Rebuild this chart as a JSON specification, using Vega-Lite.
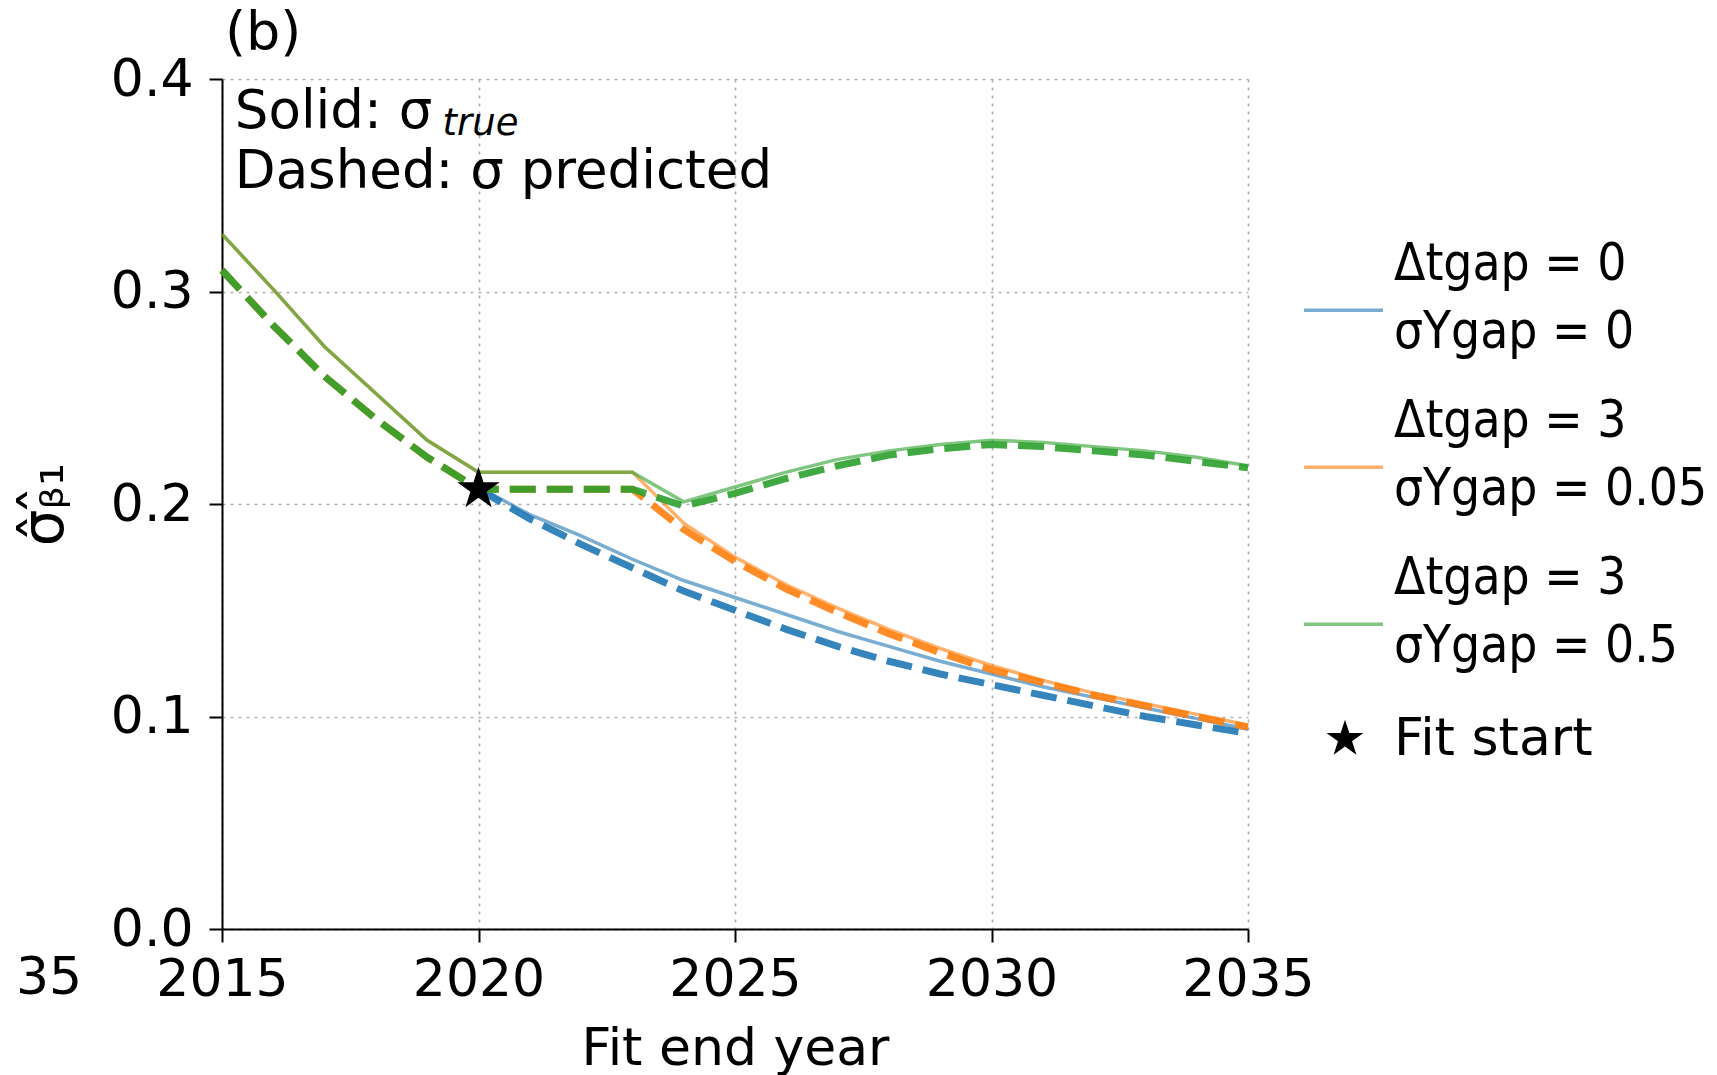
{
  "$schema": "https://vega.github.io/schema/vega-lite/v6.json",
  "width": 1026,
  "height": 850,
  "autosize": {"type": "none"},
  "padding": {"left": 222, "top": 79, "right": 469, "bottom": 146},
  "background": "white",
  "title": {"text": "(b)", "anchor": "start", "frame": "group", "fontSize": 54, "fontWeight": "normal", "font": "DejaVu Sans", "color": "#000", "offset": 14, "dx": 3, "dy": 22},
  "datasets": {
    "lines": [
      {"series": "a", "kind": "solid", "year": 2020, "value": 0.208},
      {"series": "a", "kind": "solid", "year": 2021, "value": 0.195},
      {"series": "a", "kind": "solid", "year": 2022, "value": 0.185},
      {"series": "a", "kind": "solid", "year": 2023, "value": 0.174},
      {"series": "a", "kind": "solid", "year": 2024, "value": 0.164},
      {"series": "a", "kind": "solid", "year": 2025, "value": 0.156},
      {"series": "a", "kind": "solid", "year": 2026, "value": 0.148},
      {"series": "a", "kind": "solid", "year": 2027, "value": 0.140},
      {"series": "a", "kind": "solid", "year": 2028, "value": 0.133},
      {"series": "a", "kind": "solid", "year": 2029, "value": 0.126},
      {"series": "a", "kind": "solid", "year": 2030, "value": 0.120},
      {"series": "a", "kind": "solid", "year": 2031, "value": 0.114},
      {"series": "a", "kind": "solid", "year": 2032, "value": 0.109},
      {"series": "a", "kind": "solid", "year": 2033, "value": 0.104},
      {"series": "a", "kind": "solid", "year": 2034, "value": 0.099},
      {"series": "a", "kind": "solid", "year": 2035, "value": 0.094},
      {"series": "a", "kind": "dashed", "year": 2020, "value": 0.207},
      {"series": "a", "kind": "dashed", "year": 2021, "value": 0.193},
      {"series": "a", "kind": "dashed", "year": 2022, "value": 0.181},
      {"series": "a", "kind": "dashed", "year": 2023, "value": 0.170},
      {"series": "a", "kind": "dashed", "year": 2024, "value": 0.159},
      {"series": "a", "kind": "dashed", "year": 2025, "value": 0.150},
      {"series": "a", "kind": "dashed", "year": 2026, "value": 0.141},
      {"series": "a", "kind": "dashed", "year": 2027, "value": 0.133},
      {"series": "a", "kind": "dashed", "year": 2028, "value": 0.126},
      {"series": "a", "kind": "dashed", "year": 2029, "value": 0.120},
      {"series": "a", "kind": "dashed", "year": 2030, "value": 0.115},
      {"series": "a", "kind": "dashed", "year": 2031, "value": 0.110},
      {"series": "a", "kind": "dashed", "year": 2032, "value": 0.105},
      {"series": "a", "kind": "dashed", "year": 2033, "value": 0.100},
      {"series": "a", "kind": "dashed", "year": 2034, "value": 0.096},
      {"series": "a", "kind": "dashed", "year": 2035, "value": 0.092},
      {"series": "b", "kind": "solid", "year": 2015, "value": 0.327},
      {"series": "b", "kind": "solid", "year": 2016, "value": 0.301},
      {"series": "b", "kind": "solid", "year": 2017, "value": 0.274},
      {"series": "b", "kind": "solid", "year": 2018, "value": 0.252},
      {"series": "b", "kind": "solid", "year": 2019, "value": 0.230},
      {"series": "b", "kind": "solid", "year": 2020, "value": 0.215},
      {"series": "b", "kind": "solid", "year": 2021, "value": 0.215},
      {"series": "b", "kind": "solid", "year": 2022, "value": 0.215},
      {"series": "b", "kind": "solid", "year": 2023, "value": 0.215},
      {"series": "b", "kind": "solid", "year": 2024, "value": 0.191},
      {"series": "b", "kind": "solid", "year": 2025, "value": 0.175},
      {"series": "b", "kind": "solid", "year": 2026, "value": 0.162},
      {"series": "b", "kind": "solid", "year": 2027, "value": 0.151},
      {"series": "b", "kind": "solid", "year": 2028, "value": 0.141},
      {"series": "b", "kind": "solid", "year": 2029, "value": 0.132},
      {"series": "b", "kind": "solid", "year": 2030, "value": 0.124},
      {"series": "b", "kind": "solid", "year": 2031, "value": 0.117},
      {"series": "b", "kind": "solid", "year": 2032, "value": 0.111},
      {"series": "b", "kind": "solid", "year": 2033, "value": 0.106},
      {"series": "b", "kind": "solid", "year": 2034, "value": 0.101},
      {"series": "b", "kind": "solid", "year": 2035, "value": 0.096},
      {"series": "b", "kind": "dashed", "year": 2015, "value": 0.310},
      {"series": "b", "kind": "dashed", "year": 2016, "value": 0.284},
      {"series": "b", "kind": "dashed", "year": 2017, "value": 0.260},
      {"series": "b", "kind": "dashed", "year": 2018, "value": 0.240},
      {"series": "b", "kind": "dashed", "year": 2019, "value": 0.222},
      {"series": "b", "kind": "dashed", "year": 2020, "value": 0.207},
      {"series": "b", "kind": "dashed", "year": 2021, "value": 0.207},
      {"series": "b", "kind": "dashed", "year": 2022, "value": 0.207},
      {"series": "b", "kind": "dashed", "year": 2023, "value": 0.207},
      {"series": "b", "kind": "dashed", "year": 2024, "value": 0.188},
      {"series": "b", "kind": "dashed", "year": 2025, "value": 0.173},
      {"series": "b", "kind": "dashed", "year": 2026, "value": 0.160},
      {"series": "b", "kind": "dashed", "year": 2027, "value": 0.149},
      {"series": "b", "kind": "dashed", "year": 2028, "value": 0.139},
      {"series": "b", "kind": "dashed", "year": 2029, "value": 0.130},
      {"series": "b", "kind": "dashed", "year": 2030, "value": 0.122},
      {"series": "b", "kind": "dashed", "year": 2031, "value": 0.116},
      {"series": "b", "kind": "dashed", "year": 2032, "value": 0.110},
      {"series": "b", "kind": "dashed", "year": 2033, "value": 0.105},
      {"series": "b", "kind": "dashed", "year": 2034, "value": 0.100},
      {"series": "b", "kind": "dashed", "year": 2035, "value": 0.095},
      {"series": "c", "kind": "solid", "year": 2015, "value": 0.327},
      {"series": "c", "kind": "solid", "year": 2016, "value": 0.301},
      {"series": "c", "kind": "solid", "year": 2017, "value": 0.274},
      {"series": "c", "kind": "solid", "year": 2018, "value": 0.252},
      {"series": "c", "kind": "solid", "year": 2019, "value": 0.230},
      {"series": "c", "kind": "solid", "year": 2020, "value": 0.215},
      {"series": "c", "kind": "solid", "year": 2021, "value": 0.215},
      {"series": "c", "kind": "solid", "year": 2022, "value": 0.215},
      {"series": "c", "kind": "solid", "year": 2023, "value": 0.215},
      {"series": "c", "kind": "solid", "year": 2024, "value": 0.201},
      {"series": "c", "kind": "solid", "year": 2025, "value": 0.208},
      {"series": "c", "kind": "solid", "year": 2026, "value": 0.215},
      {"series": "c", "kind": "solid", "year": 2027, "value": 0.221},
      {"series": "c", "kind": "solid", "year": 2028, "value": 0.225},
      {"series": "c", "kind": "solid", "year": 2029, "value": 0.228},
      {"series": "c", "kind": "solid", "year": 2030, "value": 0.230},
      {"series": "c", "kind": "solid", "year": 2031, "value": 0.229},
      {"series": "c", "kind": "solid", "year": 2032, "value": 0.227},
      {"series": "c", "kind": "solid", "year": 2033, "value": 0.225},
      {"series": "c", "kind": "solid", "year": 2034, "value": 0.222},
      {"series": "c", "kind": "solid", "year": 2035, "value": 0.218},
      {"series": "c", "kind": "dashed", "year": 2015, "value": 0.310},
      {"series": "c", "kind": "dashed", "year": 2016, "value": 0.284},
      {"series": "c", "kind": "dashed", "year": 2017, "value": 0.260},
      {"series": "c", "kind": "dashed", "year": 2018, "value": 0.240},
      {"series": "c", "kind": "dashed", "year": 2019, "value": 0.222},
      {"series": "c", "kind": "dashed", "year": 2020, "value": 0.207},
      {"series": "c", "kind": "dashed", "year": 2021, "value": 0.207},
      {"series": "c", "kind": "dashed", "year": 2022, "value": 0.207},
      {"series": "c", "kind": "dashed", "year": 2023, "value": 0.207},
      {"series": "c", "kind": "dashed", "year": 2024, "value": 0.199},
      {"series": "c", "kind": "dashed", "year": 2025, "value": 0.205},
      {"series": "c", "kind": "dashed", "year": 2026, "value": 0.212},
      {"series": "c", "kind": "dashed", "year": 2027, "value": 0.218},
      {"series": "c", "kind": "dashed", "year": 2028, "value": 0.223},
      {"series": "c", "kind": "dashed", "year": 2029, "value": 0.226},
      {"series": "c", "kind": "dashed", "year": 2030, "value": 0.228},
      {"series": "c", "kind": "dashed", "year": 2031, "value": 0.227},
      {"series": "c", "kind": "dashed", "year": 2032, "value": 0.225},
      {"series": "c", "kind": "dashed", "year": 2033, "value": 0.223},
      {"series": "c", "kind": "dashed", "year": 2034, "value": 0.220},
      {"series": "c", "kind": "dashed", "year": 2035, "value": 0.217}
    ],
    "star": [{"year": 2020, "value": 0.207, "marker": "Fit start"}],
    "notes": [
      {"year": 2015.25, "value": 0.377, "text": "Solid: σ", "style": "main"},
      {"year": 2019.3, "value": 0.3736, "text": "true", "style": "sub"},
      {"year": 2015.25, "value": 0.3487, "text": "Dashed: σ predicted", "style": "main"},
      {"year": 2011.63, "value": -0.0306, "text": "35", "style": "edge"}
    ]
  },
  "config": {
    "font": "DejaVu Sans",
    "view": {"stroke": null},
    "axis": {
      "labelFont": "DejaVu Sans", "labelFontSize": 52, "labelColor": "#000",
      "titleFont": "DejaVu Sans", "titleFontSize": 52, "titleFontWeight": "normal", "titleColor": "#000",
      "domainColor": "#000", "domainWidth": 2, "tickColor": "#000", "tickWidth": 2, "tickSize": 13,
      "gridColor": "#b0b0b0", "gridDash": [3, 5], "gridWidth": 1.6
    },
    "legend": {"labelFont": "DejaVu Sans Condensed", "labelFontSize": 51, "labelColor": "#000", "labelLimit": 600},
    "style": {"guide-label": {"lineHeight": 68}}
  },
  "encoding": {
    "x": {"field": "year", "type": "quantitative", "scale": {"domain": [2015, 2035], "nice": false, "zero": false},
          "axis": {"title": "Fit end year", "values": [2015, 2020, 2025, 2030, 2035], "format": "d", "labelPadding": 12, "labelFlush": false, "labelOverlap": false, "titlePadding": 18, "grid": true}},
    "y": {"field": "value", "type": "quantitative", "scale": {"domain": [0, 0.4], "nice": false},
          "axis": {"title": "σ̂ᵦ̂₁", "titleFontSize": 58, "values": [0, 0.1, 0.2, 0.3, 0.4], "format": ".1f", "labelPadding": 16, "titlePadding": 36, "grid": true}}
  },
  "layer": [
    {
      "data": {"name": "lines"},
      "transform": [{"filter": "datum.kind == 'solid'"}],
      "mark": {"type": "line", "strokeWidth": 3.5, "opacity": 0.6},
      "encoding": {
        "color": {"field": "series", "type": "nominal",
          "scale": {"domain": ["a", "b", "c"], "range": ["#1f77b4", "#ff7f0e", "#2ca02c"]},
          "legend": {"title": null, "orient": "none", "legendX": 1080, "legendY": 144, "symbolType": "M-1,1.16L1,1.16", "symbolSize": 6241, "symbolStrokeWidth": 3.5, "symbolOpacity": 0.6, "labelOffset": 9, "rowPadding": 22,
            "labelExpr": "datum.value == 'a' ? ['Δtgap = 0', 'σYgap = 0'] : datum.value == 'b' ? ['Δtgap = 3', 'σYgap = 0.05'] : ['Δtgap = 3', 'σYgap = 0.5']"}
        }
      }
    },
    {
      "data": {"name": "lines"},
      "transform": [{"filter": "datum.kind == 'dashed'"}],
      "mark": {"type": "line", "strokeWidth": 7, "opacity": 0.9, "strokeDash": [26, 11]},
      "encoding": {
        "color": {"field": "series", "type": "nominal", "legend": null}
      }
    },
    {
      "data": {"name": "star"},
      "mark": {"type": "point", "filled": true, "opacity": 1, "color": "#000"},
      "encoding": {
        "shape": {"field": "marker", "type": "nominal",
          "scale": {"range": ["M0,-1L0.2245,-0.309L0.951,-0.309L0.363,0.118L0.588,0.809L0,0.382L-0.588,0.809L-0.363,0.118L-0.951,-0.309L-0.2245,-0.309Z"]},
          "legend": {"title": null, "orient": "none", "legendX": 1097, "legendY": 634, "symbolSize": 1500, "symbolFillColor": "#000", "symbolStrokeColor": "#000", "labelOffset": 23, "labelFont": "DejaVu Sans", "labelFontSize": 52}},
        "size": {"value": 2000}
      }
    },
    {
      "data": {"name": "notes"},
      "transform": [{"filter": "datum.style == 'main'"}],
      "mark": {"type": "text", "align": "left", "baseline": "alphabetic", "fontSize": 53, "font": "DejaVu Sans", "color": "#000"},
      "encoding": {"text": {"field": "text"}}
    },
    {
      "data": {"name": "notes"},
      "transform": [{"filter": "datum.style == 'sub'"}],
      "mark": {"type": "text", "align": "left", "baseline": "alphabetic", "fontSize": 37, "fontStyle": "italic", "font": "DejaVu Sans", "color": "#000"},
      "encoding": {"text": {"field": "text"}}
    },
    {
      "data": {"name": "notes"},
      "transform": [{"filter": "datum.style == 'edge'"}],
      "mark": {"type": "text", "align": "center", "baseline": "alphabetic", "fontSize": 52, "font": "DejaVu Sans", "color": "#000"},
      "encoding": {"text": {"field": "text"}}
    }
  ]
}
